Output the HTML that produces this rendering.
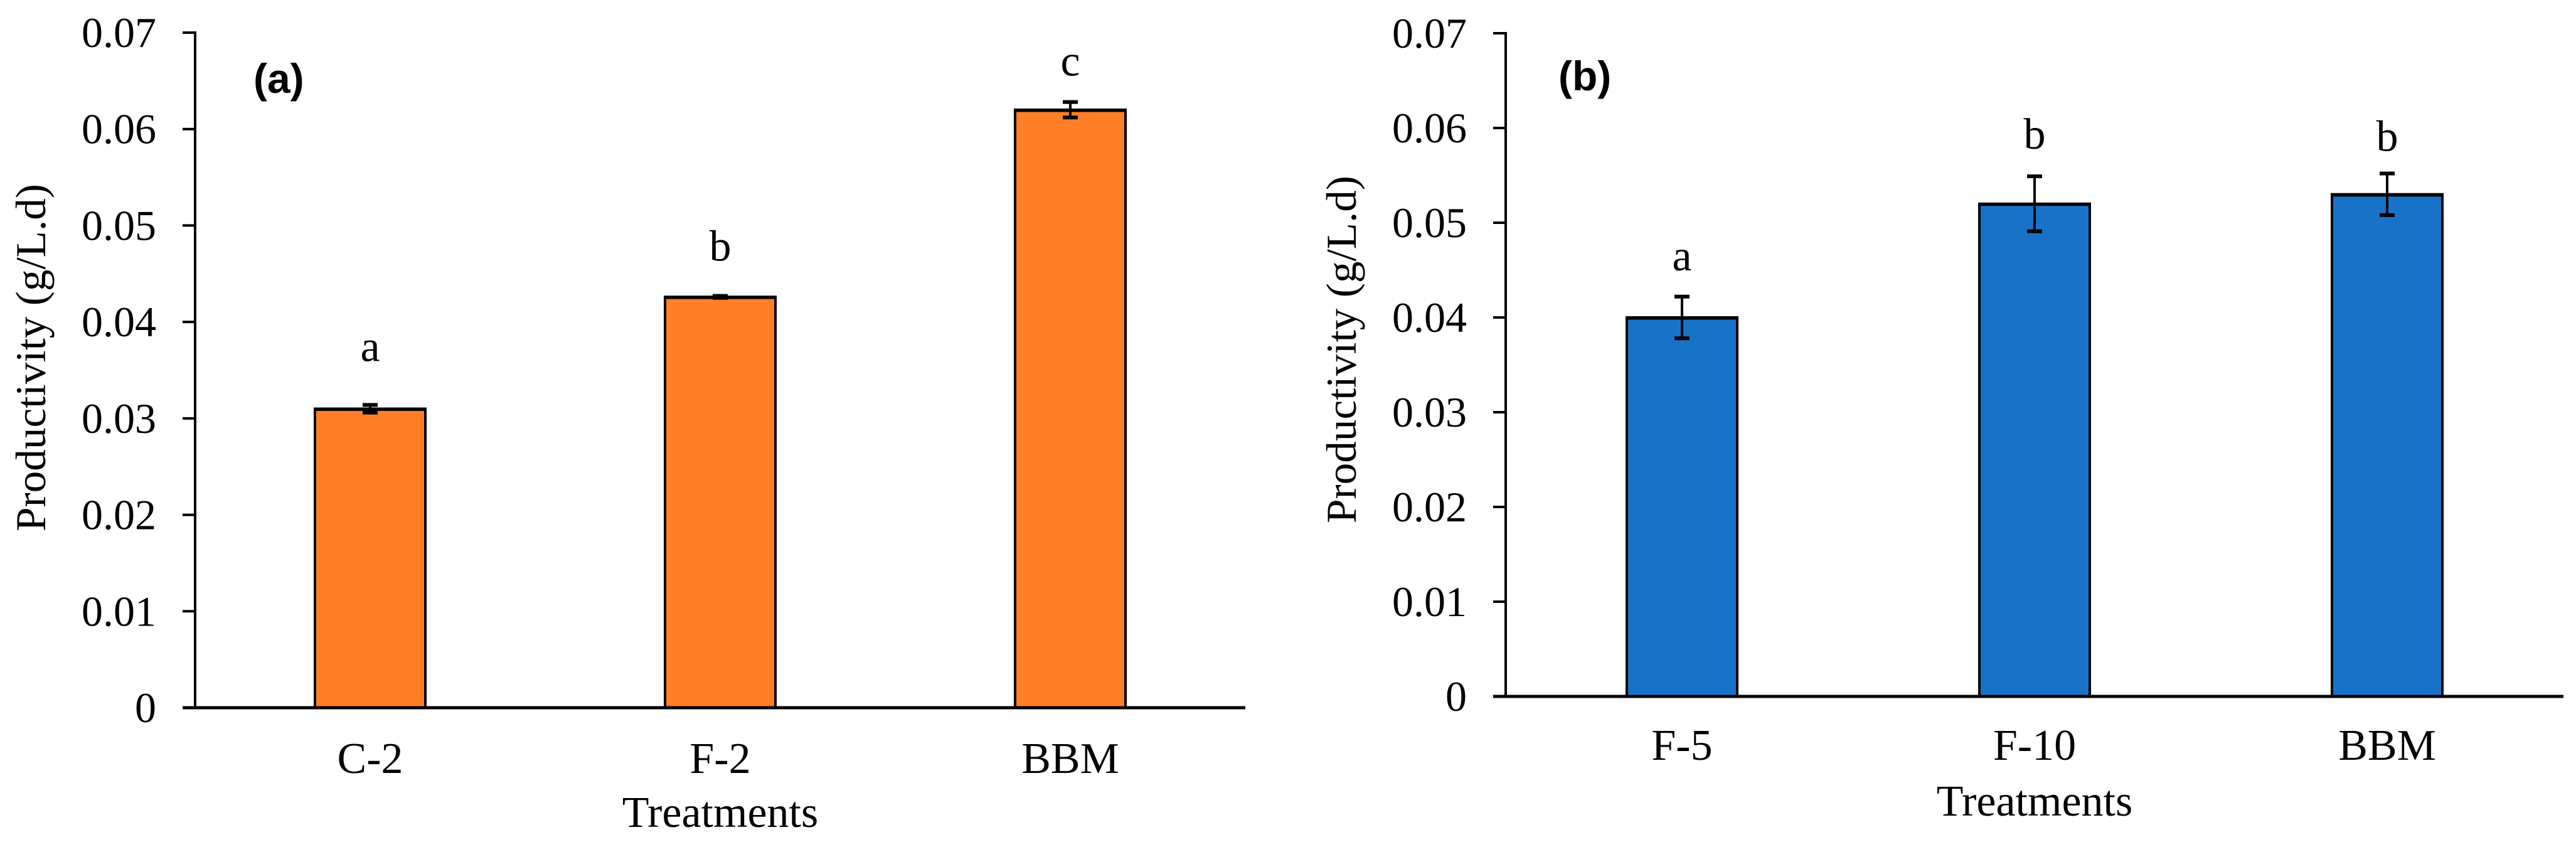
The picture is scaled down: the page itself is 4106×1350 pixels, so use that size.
<!DOCTYPE html>
<html><head><meta charset="utf-8"><style>
html,body{margin:0;padding:0;background:#fff;}
svg{display:block;}
text{font-family:"Liberation Serif",serif;fill:#000;}
</style></head><body>
<svg id="chart" width="4106" height="1350" viewBox="0 0 4106 1350" xmlns="http://www.w3.org/2000/svg"></svg>
<script>
const tickValues = [0, 0.01, 0.02, 0.03, 0.04, 0.05, 0.06, 0.07];
const tickLabels = ["0", "0.01", "0.02", "0.03", "0.04", "0.05", "0.06", "0.07"];
const categoriesA = ["C-2", "F-2", "BBM"];
const valuesA = [0.031, 0.0426, 0.062];
const errorsA = [0.0004, 0.0001, 0.0008];
const lettersA = ["a", "b", "c"];
const categoriesB = ["F-5", "F-10", "BBM"];
const valuesB = [0.040, 0.052, 0.053];
const errorsB = [0.0022, 0.0029, 0.0022];
const lettersB = ["a", "b", "b"];

const svg = document.getElementById('chart');
const NS = 'http://www.w3.org/2000/svg';
function mk(tag, attrs, parent) {
  const e = document.createElementNS(NS, tag);
  for (const k in attrs) e.setAttribute(k, attrs[k]);
  (parent || svg).appendChild(e);
  return e;
}

function panel(cfg) {
  const g = mk('g', {});
  
  
  const yScale = v => cfg.y0 - (v / 0.07) * (cfg.y0 - cfg.yTop);
  const catW = (cfg.xEnd - cfg.x0) / cfg.cats.length;
  const xCenter = i => cfg.x0 + catW * (i + 0.5);
  const barW = 176;

  // y ticks and labels
  tickValues.forEach((v, i) => {
    const y = yScale(v);
    const t = mk('line', {x1: cfg.x0 - 20, x2: cfg.x0, y1: y, y2: y, stroke: '#000', 'stroke-width': 4}, g);
    
    
    const l = mk('text', {x: cfg.x0 - 62, y: y + 23, 'font-size': 68, 'text-anchor': 'end'}, g);
    l.textContent = tickLabels[i];
    
    
  });

  // bars
  cfg.cats.forEach((c, i) => {
    const cx = xCenter(i);
    const yTop = yScale(cfg.vals[i]);
    const b = mk('rect', {x: cx - barW / 2, y: yTop, width: barW, height: cfg.y0 - yTop, fill: cfg.color, stroke: '#000', 'stroke-width': 4}, g);
    
    
    const tl = mk('line', {x1: cx - barW / 2 - 2, x2: cx + barW / 2 + 2, y1: yTop + 1, y2: yTop + 1, stroke: '#000', 'stroke-width': 5}, g);
    
    
    // error bar
    const eHi = yScale(cfg.vals[i] + cfg.errs[i]);
    const eLo = yScale(cfg.vals[i] - cfg.errs[i]);
    const eg = mk('g', {stroke: '#000', 'stroke-width': 4}, g);
    
    
    mk('line', {x1: cx, x2: cx, y1: eHi, y2: eLo}, eg);
    mk('line', {x1: cx - 12, x2: cx + 12, y1: eHi, y2: eHi, 'stroke-width': 6}, eg);
    mk('line', {x1: cx - 12, x2: cx + 12, y1: eLo, y2: eLo, 'stroke-width': 6}, eg);
    // letter
    const lt = mk('text', {x: cx, y: eHi - cfg.letterGap[i], 'font-size': 70, 'text-anchor': 'middle'}, g);
    lt.textContent = cfg.letters[i];
    
    
    // category label
    const cl = mk('text', {x: cx, y: cfg.y0 + cfg.catDy, 'font-size': 70, 'text-anchor': 'middle'}, g);
    cl.textContent = c;
    
    
  });

  // axes
  const ya = mk('line', {x1: cfg.x0, x2: cfg.x0, y1: cfg.yTop - 2, y2: cfg.y0, stroke: '#000', 'stroke-width': 4}, g);
  
  
  const xa = mk('line', {x1: cfg.x0 - 20, x2: cfg.xEnd, y1: cfg.y0, y2: cfg.y0, stroke: '#000', 'stroke-width': 5}, g);
  
  

  // titles
  const yt = mk('text', {x: 0, y: 0, 'font-size': 68, 'text-anchor': 'middle', textLength: 554, lengthAdjust: 'spacingAndGlyphs', transform: 'translate(' + cfg.yTitleX + ',' + cfg.yTitleY + ') rotate(-90)'}, g);
  yt.textContent = 'Productivity (g/L.d)';
  
  
  const xt = mk('text', {x: xCenter(1), y: cfg.xTitleY, 'font-size': 70, 'text-anchor': 'middle'}, g);
  xt.textContent = 'Treatments';
  
  
  const pl = mk('text', {x: cfg.panelX, y: cfg.panelY, 'font-size': 66, 'font-weight': 'bold', style: 'font-family:"Liberation Sans",sans-serif'}, g);
  pl.textContent = cfg.panelLabel;
  
  
}

panel({name: 'panel-a', x0: 311, xEnd: 1985, y0: 1128, yTop: 52, cats: categoriesA, vals: valuesA, errs: errorsA, letters: lettersA,
  color: '#FF7F27', letterGap: [70, 56, 42], catDy: 104, yTitleX: 72, yTitleY: 570, xTitleY: 1318, panelX: 404, panelY: 148, panelLabel: '(a)'});
panel({name: 'panel-b', x0: 2400, xEnd: 4086, y0: 1110, yTop: 53, cats: categoriesB, vals: valuesB, errs: errorsB, letters: lettersB,
  color: '#1873C8', letterGap: [42, 44, 36], catDy: 101, yTitleX: 2161, yTitleY: 557, xTitleY: 1300, panelX: 2484, panelY: 144, panelLabel: '(b)'});
</script>
</body></html>
